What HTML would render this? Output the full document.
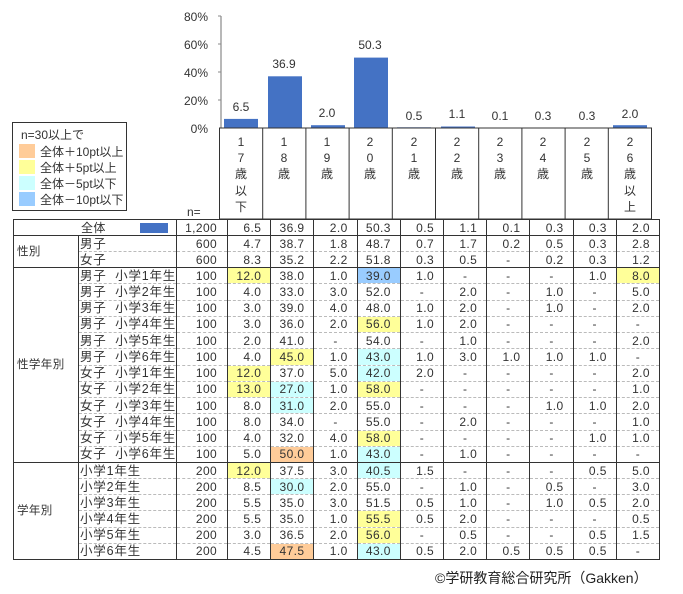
<!DOCTYPE html>
<html><head><meta charset="utf-8"><style>
body{margin:0;background:#fff;width:683px;height:594px;position:relative;overflow:hidden;font-family:"Liberation Sans","Noto Sans CJK JP",sans-serif;color:#333;}
svg{position:absolute;left:0;top:0}
svg text{font-family:"Liberation Sans","Noto Sans CJK JP",sans-serif;fill:#333;font-size:12px}
table{position:absolute;left:13px;top:219px;border-collapse:collapse;table-layout:fixed;font-size:12px;letter-spacing:0.4px;border:1px solid #333}
td{padding:0;border-left:1px solid #333;border-right:1px solid #333;border-top:none;border-bottom:1px dashed #bbb;white-space:nowrap;line-height:14px;overflow:hidden}
tr.e td{border-bottom:1px solid #333}
td.g{vertical-align:middle;padding-left:3px;font-size:11.5px;border-bottom:1px solid #333}
td.l{padding-left:1px;font-size:12.5px;letter-spacing:0.8px}
td.n{text-align:right;padding-right:10px}
td.d{text-align:right;padding-right:9px}
td.x{text-align:center}
.Y{background:#ffff99}.O{background:#ffcc99}.C{background:#ccffff}.B{background:#99ccff}
.cap{position:absolute;left:435px;top:568px;font-size:14px;color:#222}
</style></head><body>
<svg width="683" height="594">
<text x="208" y="21" text-anchor="end">80%</text>
<text x="208" y="49" text-anchor="end">60%</text>
<text x="208" y="77" text-anchor="end">40%</text>
<text x="208" y="105" text-anchor="end">20%</text>
<text x="208" y="133" text-anchor="end">0%</text>
<line x1="221" y1="16" x2="221" y2="128" stroke="#888" stroke-width="1.2"/>
<g stroke="#888"><line x1="218" y1="16" x2="221" y2="16"/><line x1="218" y1="44" x2="221" y2="44"/><line x1="218" y1="72" x2="221" y2="72"/><line x1="218" y1="100" x2="221" y2="100"/></g>
<g fill="#4472c4">
<rect x="224" y="118.9" width="34" height="9.1"/>
<rect x="268" y="76.3" width="34" height="51.7"/>
<rect x="311" y="125.2" width="34" height="2.8"/>
<rect x="354" y="57.6" width="34" height="70.4"/>
<rect x="397" y="127.3" width="34" height="0.7"/>
<rect x="441" y="126.5" width="34" height="1.5"/>
<rect x="484" y="127.8" width="34" height="0.5"/>
<rect x="527" y="127.5" width="34" height="0.5"/>
<rect x="570" y="127.5" width="34" height="0.5"/>
<rect x="613" y="125.2" width="34" height="2.8"/>
</g>
<g text-anchor="middle">
<text x="241" y="111">6.5</text><text x="284" y="68">36.9</text><text x="327" y="117">2.0</text>
<text x="370" y="49">50.3</text><text x="414" y="120">0.5</text><text x="457" y="118">1.1</text>
<text x="500" y="120">0.1</text><text x="543" y="120">0.3</text><text x="587" y="120">0.3</text><text x="630" y="118">2.0</text>
</g>
<rect x="219.5" y="128" width="432" height="91" fill="none" stroke="#333"/>
<g stroke="#333"><line x1="262.7" y1="128" x2="262.7" y2="219"/><line x1="305.9" y1="128" x2="305.9" y2="219"/><line x1="349.1" y1="128" x2="349.1" y2="219"/><line x1="392.3" y1="128" x2="392.3" y2="219"/><line x1="435.5" y1="128" x2="435.5" y2="219"/><line x1="478.7" y1="128" x2="478.7" y2="219"/><line x1="521.9" y1="128" x2="521.9" y2="219"/><line x1="565.1" y1="128" x2="565.1" y2="219"/><line x1="608.3" y1="128" x2="608.3" y2="219"/></g>
<g text-anchor="middle" font-size="12">
<text x="241" y="146">1</text><text x="241" y="162">7</text><text x="241" y="178">歳</text><text x="241" y="195">以</text><text x="241" y="211">下</text>
<text x="284" y="146">1</text><text x="284" y="162">8</text><text x="284" y="178">歳</text>
<text x="327" y="146">1</text><text x="327" y="162">9</text><text x="327" y="178">歳</text>
<text x="370" y="146">2</text><text x="370" y="162">0</text><text x="370" y="178">歳</text>
<text x="414" y="146">2</text><text x="414" y="162">1</text><text x="414" y="178">歳</text>
<text x="457" y="146">2</text><text x="457" y="162">2</text><text x="457" y="178">歳</text>
<text x="500" y="146">2</text><text x="500" y="162">3</text><text x="500" y="178">歳</text>
<text x="543" y="146">2</text><text x="543" y="162">4</text><text x="543" y="178">歳</text>
<text x="587" y="146">2</text><text x="587" y="162">5</text><text x="587" y="178">歳</text>
<text x="630" y="146">2</text><text x="630" y="162">6</text><text x="630" y="178">歳</text><text x="630" y="195">以</text><text x="630" y="211">上</text>
</g>
<text x="187" y="216" font-size="11">n=</text>
<rect x="12.5" y="122.5" width="114" height="88" fill="#fff" stroke="#333"/>
<text x="21" y="139" font-size="11">n=30以上で</text>
<rect x="19" y="144" width="16" height="14" fill="#ffcc99"/><text x="40" y="156" font-size="11.5">全体＋10pt以上</text>
<rect x="19" y="160" width="16" height="14" fill="#ffff99"/><text x="40" y="172" font-size="11.5">全体＋5pt以上</text>
<rect x="19" y="176" width="16" height="14" fill="#ccffff"/><text x="40" y="188" font-size="11.5">全体－5pt以下</text>
<rect x="19" y="192" width="16" height="14" fill="#99ccff"/><text x="40" y="204" font-size="11.5">全体－10pt以下</text>
</svg>
<table>
<colgroup><col style="width:65px"><col style="width:90px"><col style="width:51px"><col style="width:43.2px"><col style="width:43.2px"><col style="width:43.2px"><col style="width:43.2px"><col style="width:43.2px"><col style="width:43.2px"><col style="width:43.2px"><col style="width:43.2px"><col style="width:43.2px"><col style="width:43.2px"></colgroup>
<tr class="e" style="height:16px"><td colspan="2" style="position:relative;padding-left:67px">全体<span style="position:absolute;left:126px;top:3px;width:28px;height:10px;background:#4472c4"></span></td><td class="n">1,200</td><td class="d">6.5</td><td class="d">36.9</td><td class="d">2.0</td><td class="d">50.3</td><td class="d">0.5</td><td class="d">1.1</td><td class="d">0.1</td><td class="d">0.3</td><td class="d">0.3</td><td class="d">2.0</td></tr>
<tr style="height:16px"><td class="g" rowspan="2">性別</td><td class="l">男子</td><td class="n">600</td><td class="d">4.7</td><td class="d">38.7</td><td class="d">1.8</td><td class="d">48.7</td><td class="d">0.7</td><td class="d">1.7</td><td class="d">0.2</td><td class="d">0.5</td><td class="d">0.3</td><td class="d">2.8</td></tr>
<tr class="e" style="height:16px"><td class="l">女子</td><td class="n">600</td><td class="d">8.3</td><td class="d">35.2</td><td class="d">2.2</td><td class="d">51.8</td><td class="d">0.3</td><td class="d">0.5</td><td class="x">-</td><td class="d">0.2</td><td class="d">0.3</td><td class="d">1.2</td></tr>
<tr style="height:16.25px"><td class="g" rowspan="12">性学年別</td><td class="l">男子&nbsp; 小学1年生</td><td class="n">100</td><td class="d Y">12.0</td><td class="d">38.0</td><td class="d">1.0</td><td class="d B">39.0</td><td class="d">1.0</td><td class="x">-</td><td class="x">-</td><td class="x">-</td><td class="d">1.0</td><td class="d Y">8.0</td></tr>
<tr style="height:16.25px"><td class="l">男子&nbsp; 小学2年生</td><td class="n">100</td><td class="d">4.0</td><td class="d">33.0</td><td class="d">3.0</td><td class="d">52.0</td><td class="x">-</td><td class="d">2.0</td><td class="x">-</td><td class="d">1.0</td><td class="x">-</td><td class="d">5.0</td></tr>
<tr style="height:16.25px"><td class="l">男子&nbsp; 小学3年生</td><td class="n">100</td><td class="d">3.0</td><td class="d">39.0</td><td class="d">4.0</td><td class="d">48.0</td><td class="d">1.0</td><td class="d">2.0</td><td class="x">-</td><td class="d">1.0</td><td class="x">-</td><td class="d">2.0</td></tr>
<tr style="height:16.25px"><td class="l">男子&nbsp; 小学4年生</td><td class="n">100</td><td class="d">3.0</td><td class="d">36.0</td><td class="d">2.0</td><td class="d Y">56.0</td><td class="d">1.0</td><td class="d">2.0</td><td class="x">-</td><td class="x">-</td><td class="x">-</td><td class="x">-</td></tr>
<tr style="height:16.25px"><td class="l">男子&nbsp; 小学5年生</td><td class="n">100</td><td class="d">2.0</td><td class="d">41.0</td><td class="x">-</td><td class="d">54.0</td><td class="x">-</td><td class="d">1.0</td><td class="x">-</td><td class="x">-</td><td class="x">-</td><td class="d">2.0</td></tr>
<tr style="height:16.25px"><td class="l">男子&nbsp; 小学6年生</td><td class="n">100</td><td class="d">4.0</td><td class="d Y">45.0</td><td class="d">1.0</td><td class="d C">43.0</td><td class="d">1.0</td><td class="d">3.0</td><td class="d">1.0</td><td class="d">1.0</td><td class="d">1.0</td><td class="x">-</td></tr>
<tr style="height:16.25px"><td class="l">女子&nbsp; 小学1年生</td><td class="n">100</td><td class="d Y">12.0</td><td class="d">37.0</td><td class="d">5.0</td><td class="d C">42.0</td><td class="d">2.0</td><td class="x">-</td><td class="x">-</td><td class="x">-</td><td class="x">-</td><td class="d">2.0</td></tr>
<tr style="height:16.25px"><td class="l">女子&nbsp; 小学2年生</td><td class="n">100</td><td class="d Y">13.0</td><td class="d C">27.0</td><td class="d">1.0</td><td class="d Y">58.0</td><td class="x">-</td><td class="x">-</td><td class="x">-</td><td class="x">-</td><td class="x">-</td><td class="d">1.0</td></tr>
<tr style="height:16.25px"><td class="l">女子&nbsp; 小学3年生</td><td class="n">100</td><td class="d">8.0</td><td class="d C">31.0</td><td class="d">2.0</td><td class="d">55.0</td><td class="x">-</td><td class="x">-</td><td class="x">-</td><td class="d">1.0</td><td class="d">1.0</td><td class="d">2.0</td></tr>
<tr style="height:16.25px"><td class="l">女子&nbsp; 小学4年生</td><td class="n">100</td><td class="d">8.0</td><td class="d">34.0</td><td class="x">-</td><td class="d">55.0</td><td class="x">-</td><td class="d">2.0</td><td class="x">-</td><td class="x">-</td><td class="x">-</td><td class="d">1.0</td></tr>
<tr style="height:16.25px"><td class="l">女子&nbsp; 小学5年生</td><td class="n">100</td><td class="d">4.0</td><td class="d">32.0</td><td class="d">4.0</td><td class="d Y">58.0</td><td class="x">-</td><td class="x">-</td><td class="x">-</td><td class="x">-</td><td class="d">1.0</td><td class="d">1.0</td></tr>
<tr class="e" style="height:16.25px"><td class="l">女子&nbsp; 小学6年生</td><td class="n">100</td><td class="d">5.0</td><td class="d O">50.0</td><td class="d">1.0</td><td class="d C">43.0</td><td class="x">-</td><td class="d">1.0</td><td class="x">-</td><td class="x">-</td><td class="x">-</td><td class="x">-</td></tr>
<tr style="height:16.15px"><td class="g" rowspan="6">学年別</td><td class="l">小学1年生</td><td class="n">200</td><td class="d Y">12.0</td><td class="d">37.5</td><td class="d">3.0</td><td class="d C">40.5</td><td class="d">1.5</td><td class="x">-</td><td class="x">-</td><td class="x">-</td><td class="d">0.5</td><td class="d">5.0</td></tr>
<tr style="height:16.15px"><td class="l">小学2年生</td><td class="n">200</td><td class="d">8.5</td><td class="d C">30.0</td><td class="d">2.0</td><td class="d">55.0</td><td class="x">-</td><td class="d">1.0</td><td class="x">-</td><td class="d">0.5</td><td class="x">-</td><td class="d">3.0</td></tr>
<tr style="height:16.15px"><td class="l">小学3年生</td><td class="n">200</td><td class="d">5.5</td><td class="d">35.0</td><td class="d">3.0</td><td class="d">51.5</td><td class="d">0.5</td><td class="d">1.0</td><td class="x">-</td><td class="d">1.0</td><td class="d">0.5</td><td class="d">2.0</td></tr>
<tr style="height:16.15px"><td class="l">小学4年生</td><td class="n">200</td><td class="d">5.5</td><td class="d">35.0</td><td class="d">1.0</td><td class="d Y">55.5</td><td class="d">0.5</td><td class="d">2.0</td><td class="x">-</td><td class="x">-</td><td class="x">-</td><td class="d">0.5</td></tr>
<tr style="height:16.15px"><td class="l">小学5年生</td><td class="n">200</td><td class="d">3.0</td><td class="d">36.5</td><td class="d">2.0</td><td class="d Y">56.0</td><td class="x">-</td><td class="d">0.5</td><td class="x">-</td><td class="x">-</td><td class="d">0.5</td><td class="d">1.5</td></tr>
<tr class="e" style="height:16.15px"><td class="l">小学6年生</td><td class="n">200</td><td class="d">4.5</td><td class="d O">47.5</td><td class="d">1.0</td><td class="d C">43.0</td><td class="d">0.5</td><td class="d">2.0</td><td class="d">0.5</td><td class="d">0.5</td><td class="d">0.5</td><td class="x">-</td></tr>
</table>
<div class="cap">©学研教育総合研究所（Gakken）</div>
</body></html>
